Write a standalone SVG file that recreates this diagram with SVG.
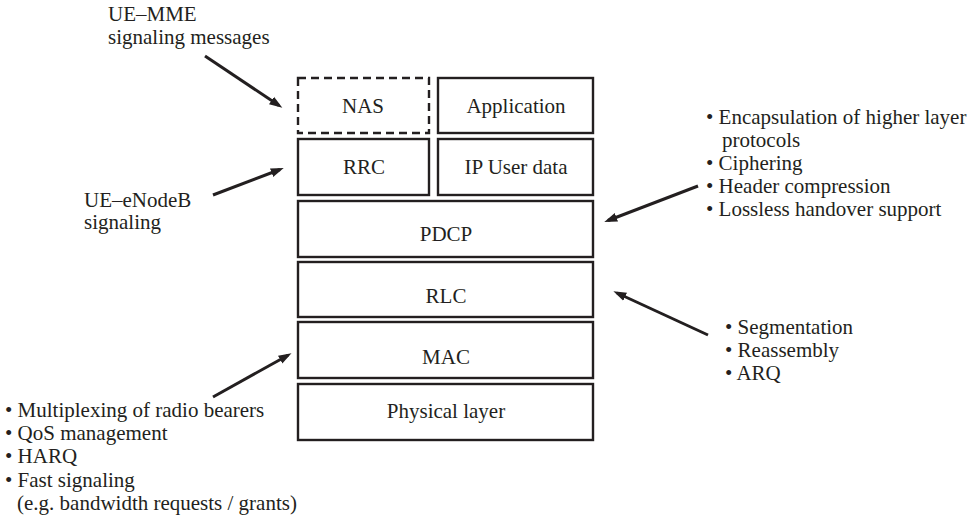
<svg xmlns="http://www.w3.org/2000/svg" width="977" height="517" viewBox="0 0 977 517">
<defs>
<style>
text{font-family:'Liberation Serif','Times New Roman',serif;font-size:21px;fill:#231f20}
.c{text-anchor:middle}
.box{fill:#fff;stroke:#231f20;stroke-width:2.4}
.dash{stroke-dasharray:8,5}
.arr{stroke:#231f20;stroke-width:3;fill:none;marker-end:url(#ah)}
</style>
<marker id="ah" markerUnits="userSpaceOnUse" markerWidth="14" markerHeight="10" refX="9" refY="5" orient="auto">
<path d="M0,0.5 L13,5 L0,9.5 Z" fill="#231f20"/>
</marker>
</defs>
<rect width="977" height="517" fill="#fff"/>
<g id="nas"><rect class="box dash" x="298" y="78" width="131" height="55"/><text class="c" x="363" y="113">NAS</text></g>
<g id="application"><rect class="box" x="438" y="78" width="155" height="55"/><text class="c" x="516" y="113">Application</text></g>
<g id="rrc"><rect class="box" x="298" y="139" width="131" height="56"/><text class="c" x="364" y="174">RRC</text></g>
<g id="ipdata"><rect class="box" x="438" y="139" width="155" height="56"/><text class="c" x="516" y="174">IP User data</text></g>
<g id="pdcp"><rect class="box" x="298" y="201" width="295" height="56"/><text class="c" x="446" y="241">PDCP</text></g>
<g id="rlc"><rect class="box" x="298" y="262" width="295" height="55"/><text class="c" x="446" y="303">RLC</text></g>
<g id="mac"><rect class="box" x="298" y="322" width="295" height="56"/><text class="c" x="446" y="364">MAC</text></g>
<g id="phy"><rect class="box" x="298" y="384" width="295" height="56"/><text class="c" x="446" y="418">Physical layer</text></g>
<g id="ue-mme"><text x="108" y="21">UE–MME</text><text x="108" y="44">signaling messages</text></g>
<g id="ue-enb"><text x="84" y="207">UE–eNodeB</text><text x="84" y="229">signaling</text></g>
<g id="pdcp-notes">
<text x="706" y="124">• Encapsulation of higher layer</text>
<text x="722" y="147">protocols</text>
<text x="706" y="170">• Ciphering</text>
<text x="706" y="193">• Header compression</text>
<text x="706" y="216">• Lossless handover support</text>
</g>
<g id="rlc-notes">
<text x="725" y="334">• Segmentation</text>
<text x="725" y="357">• Reassembly</text>
<text x="725" y="380">• ARQ</text>
</g>
<g id="mac-notes">
<text x="5" y="417">• Multiplexing of radio bearers</text>
<text x="5" y="440">• QoS management</text>
<text x="5" y="463">• HARQ</text>
<text x="5" y="487">• Fast signaling</text>
<text x="17" y="510">(e.g. bandwidth requests / grants)</text>
</g>
<g id="connectors">
<line class="arr" x1="205" y1="56" x2="279" y2="105.5"/>
<line class="arr" x1="213" y1="195" x2="280" y2="169.5"/>
<line class="arr" x1="698" y1="186" x2="608" y2="220.5"/>
<line class="arr" x1="708" y1="335" x2="617" y2="293"/>
<line class="arr" x1="213" y1="397" x2="288" y2="355.2"/>
</g>
</svg>
